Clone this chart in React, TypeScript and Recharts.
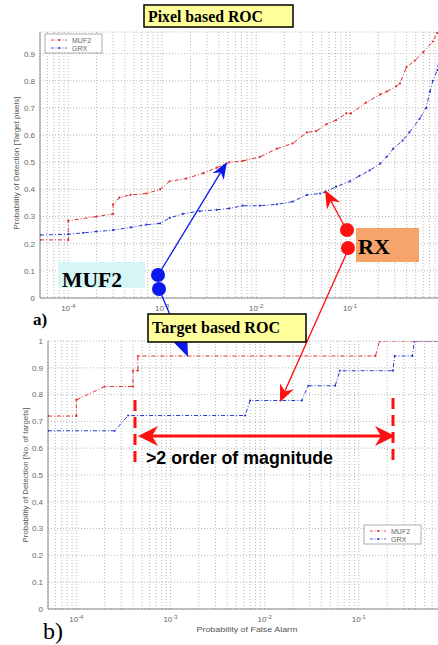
import React from "react";
import { LineChart, Line, XAxis, YAxis, CartesianGrid } from "recharts";

const seriesNames = ["MUF2", "GRX"];
const seriesColors = ["#dd2a2a", "#2a3ad0"];

// a) pixel based ROC
const pixelMufPfa = [5e-5, 1e-4, 1e-4, 2e-4, 3e-4, 3e-4, 3.5e-4, 4.6e-4, 6.8e-4, 9.5e-4, 1.2e-3, 1.8e-3, 2.75e-3, 3.8e-3, 5.2e-3, 7.2e-3, 0.011, 0.0166, 0.0245, 0.0347, 0.0437, 0.056, 0.071, 0.091, 0.102, 0.148, 0.209, 0.245, 0.309, 0.339, 0.398, 0.49, 0.6, 0.76, 0.85, 1];
const pixelMufPd = [0.214, 0.214, 0.285, 0.3, 0.31, 0.345, 0.37, 0.38, 0.385, 0.4, 0.43, 0.44, 0.46, 0.48, 0.5, 0.505, 0.52, 0.55, 0.57, 0.61, 0.615, 0.64, 0.655, 0.68, 0.68, 0.72, 0.75, 0.76, 0.78, 0.79, 0.85, 0.875, 0.905, 0.945, 0.977, 1];
const pixelGrxPfa = [5e-5, 1e-4, 1.45e-4, 2e-4, 3e-4, 4.6e-4, 6.8e-4, 9.5e-4, 1.2e-3, 1.66e-3, 2.5e-3, 3.8e-3, 5.2e-3, 7.2e-3, 0.011, 0.0166, 0.0245, 0.0347, 0.048, 0.054, 0.071, 0.1, 0.126, 0.162, 0.209, 0.245, 0.288, 0.363, 0.427, 0.55, 0.645, 0.708, 0.76, 0.85, 1];
const pixelGrxPd = [0.232, 0.235, 0.24, 0.245, 0.25, 0.26, 0.27, 0.275, 0.295, 0.31, 0.32, 0.325, 0.33, 0.34, 0.34, 0.345, 0.355, 0.38, 0.385, 0.39, 0.41, 0.43, 0.45, 0.47, 0.495, 0.52, 0.55, 0.58, 0.61, 0.66, 0.7, 0.76, 0.8, 0.84, 1];

// b) target based ROC
const targetMufPfa = [5e-5, 1e-4, 1e-4, 2e-4, 4e-4, 4e-4, 4.5e-4, 4.5e-4, 0.15, 0.166, 1];
const targetMufPd = [0.72, 0.72, 0.78, 0.83, 0.83, 0.89, 0.89, 0.944, 0.944, 1, 1];
const targetGrxPfa = [5e-5, 2.55e-4, 3.55e-4, 6.2e-3, 7.0e-3, 0.0248, 0.029, 0.056, 0.063, 0.23, 0.24, 0.37, 0.39, 1];
const targetGrxPd = [0.665, 0.665, 0.722, 0.722, 0.778, 0.778, 0.833, 0.833, 0.889, 0.889, 0.944, 0.944, 1, 1];

const pixelPdTicks = [0, 0.1, 0.2, 0.3, 0.4, 0.5, 0.6, 0.7, 0.8, 0.9];
const targetPdTicks = [0, 0.1, 0.2, 0.3, 0.4, 0.5, 0.6, 0.7, 0.8, 0.9, 1];
const decades = [1e-5, 1e-4, 1e-3, 1e-2, 1e-1];
const labelledDecades = [-4, -3, -2, -1];
const mantissas = [1, 2, 3, 4, 5, 6, 7, 8, 9];
const pfaDomain: [number, number] = [5e-5, 1];
const pfaTicks = [...decades.flatMap((d) => mantissas.map((m) => m * d)), 1].filter(
  (v) => v >= pfaDomain[0] * 0.999
);

const toRows = (xs: number[], ys: number[]) => xs.map((pfa, i) => ({ pfa, pd: ys[i] }));

const serif = "'Liberation Serif', 'Times New Roman', serif";
const sans = "'Liberation Sans', Arial, sans-serif";

const DecadeTick = (props: any) => {
  const { x, y, payload } = props;
  const lg = Math.log10(payload.value);
  const e = Math.round(lg);
  if (Math.abs(lg - e) > 1e-6 || !labelledDecades.includes(e)) return <g />;
  return (
    <text x={x} y={y + 5} textAnchor="middle" fontSize={8} fill="#666" fontFamily={sans}>
      <tspan>10</tspan>
      <tspan dy={-3} fontSize={6}>{e}</tspan>
    </text>
  );
};

type ChartProps = {
  top: number;
  width: number;
  height: number;
  margin: { top: number; right: number; bottom: number; left: number };
  yWidth: number;
  yDomain: [number, number];
  yTicks: number[];
  muf: { pfa: number; pd: number }[];
  grx: { pfa: number; pd: number }[];
};

const RocChart = ({ top, width, height, margin, yWidth, yDomain, yTicks, muf, grx }: ChartProps) => (
  <div style={{ position: "absolute", left: 0, top }}>
    <LineChart width={width} height={height} margin={margin}>
      <CartesianGrid stroke="#b8b8b8" strokeDasharray="1 2" />
      <XAxis
        dataKey="pfa"
        type="number"
        scale="log"
        domain={pfaDomain}
        ticks={pfaTicks}
        interval={0}
        allowDataOverflow
        height={20}
        tick={<DecadeTick />}
        tickLine={false}
        axisLine={{ stroke: "#888" }}
      />
      <XAxis
        xAxisId="top"
        orientation="top"
        dataKey="pfa"
        type="number"
        scale="log"
        domain={pfaDomain}
        height={0}
        tick={false}
        tickLine={false}
        axisLine={{ stroke: "#888" }}
      />
      <YAxis
        type="number"
        domain={yDomain}
        ticks={yTicks}
        interval={0}
        allowDataOverflow
        width={yWidth}
        tickSize={3}
        tickLine={false}
        axisLine={{ stroke: "#888" }}
        tick={{ fontSize: 8, fill: "#666", fontFamily: sans }}
      />
      <Line
        data={muf}
        dataKey="pd"
        name={seriesNames[0]}
        stroke={seriesColors[0]}
        strokeWidth={1}
        strokeDasharray="4 2 1 2"
        dot={{ r: 1.1, fill: seriesColors[0], stroke: "none" }}
        isAnimationActive={false}
      />
      <Line
        data={grx}
        dataKey="pd"
        name={seriesNames[1]}
        stroke={seriesColors[1]}
        strokeWidth={1}
        strokeDasharray="4 2 1 2"
        dot={{ r: 1.1, fill: seriesColors[1], stroke: "none" }}
        isAnimationActive={false}
      />
    </LineChart>
  </div>
);

const Arrow = ({ x1, y1, x2, y2, color, w, head, hw }: any) => {
  const dx = x2 - x1;
  const dy = y2 - y1;
  const L = Math.hypot(dx, dy);
  const ux = dx / L;
  const uy = dy / L;
  const bx = x2 - ux * head;
  const by = y2 - uy * head;
  const nx = x2 - ux * head * 0.7;
  const ny = y2 - uy * head * 0.7;
  const px = (-uy * hw) / 2;
  const py = (ux * hw) / 2;
  return (
    <g>
      <line x1={x1} y1={y1} x2={nx} y2={ny} stroke={color} strokeWidth={w} />
      <polygon points={`${x2},${y2} ${bx + px},${by + py} ${nx},${ny} ${bx - px},${by - py}`} fill={color} />
    </g>
  );
};

const LegendBox = ({ x, y }: { x: number; y: number }) => (
  <g>
    <rect x={x} y={y} width={57} height={19} fill="#fff" stroke="#999" strokeWidth={0.8} />
    {seriesNames.map((n, i) => (
      <g key={n}>
        <line
          x1={x + 6}
          x2={x + 22}
          y1={y + 6 + i * 8}
          y2={y + 6 + i * 8}
          stroke={seriesColors[i]}
          strokeWidth={0.8}
          strokeDasharray="3 1.5 1 1.5"
        />
        <circle cx={x + 14} cy={y + 6 + i * 8} r={0.9} fill={seriesColors[i]} />
        <text x={x + 27} y={y + 8.5 + i * 8} fontSize={7} fill="#666" fontFamily={sans}>
          {n}
        </text>
      </g>
    ))}
  </g>
);

export default function App() {
  const pixelMuf = toRows(pixelMufPfa, pixelMufPd);
  const pixelGrx = toRows(pixelGrxPfa, pixelGrxPd);
  const targetMuf = toRows(targetMufPfa, targetMufPd);
  const targetGrx = toRows(targetGrxPfa, targetGrxPd);
  const red = "#ff1010";
  const blue = "#0a18ee";
  return (
    <div style={{ position: "absolute", left: 0, top: 0, width: 438, height: 645, overflow: "hidden", background: "#fff" }}>
      <RocChart
        top={0}
        width={460}
        height={320}
        margin={{ top: 32, right: 16, bottom: 2, left: 0 }}
        yWidth={40}
        yDomain={[0, 0.98]}
        yTicks={pixelPdTicks}
        muf={pixelMuf}
        grx={pixelGrx}
      />
      <RocChart
        top={300}
        width={470}
        height={335}
        margin={{ top: 41, right: 17, bottom: 6, left: 0 }}
        yWidth={48}
        yDomain={[0, 1]}
        yTicks={targetPdTicks}
        muf={targetMuf}
        grx={targetGrx}
      />
      <svg width={438} height={645} style={{ position: "absolute", left: 0, top: 0 }}>
        <LegendBox x={45} y={34} />
        <LegendBox x={364} y={525} />

        <text transform="translate(19,163) rotate(-90)" textAnchor="middle" fontSize={7} fill="#555" fontFamily={sans} textLength={133} lengthAdjust="spacingAndGlyphs">
          Probability of Detection [Target pixels]
        </text>
        <text transform="translate(28,475) rotate(-90)" textAnchor="middle" fontSize={7} fill="#555" fontFamily={sans} textLength={135} lengthAdjust="spacingAndGlyphs">
          Probability of Detection [No. of targets]
        </text>
        <text x={247} y={632} textAnchor="middle" fontSize={8} fill="#555" fontFamily={sans} textLength={101} lengthAdjust="spacingAndGlyphs">
          Probability of False Alarm
        </text>

        {/* MUF2 annotation */}
        <rect x={58} y={262} width={87} height={26} fill="#d6f5f7" />
        <text x={62} y={287} fontSize={22} fontWeight="bold" fontFamily={serif} textLength={60} lengthAdjust="spacingAndGlyphs">MUF2</text>
        <Arrow x1={160} y1={272} x2={227} y2={162} color={blue} w={1.3} head={17} hw={13} />
        <Arrow x1={159} y1={289} x2={188} y2={357} color={blue} w={1.3} head={22} hw={17} />
        <circle cx={158} cy={275} r={7} fill={blue} />
        <circle cx={159} cy={289} r={7} fill={blue} />

        {/* RX annotation */}
        <rect x={356} y={228} width={63} height={34} fill="#f6a46a" />
        <text x={358} y={254} fontSize={22} fontWeight="bold" fontFamily={serif} textLength={32} lengthAdjust="spacingAndGlyphs">RX</text>
        <Arrow x1={345} y1={227} x2={325} y2={190} color={red} w={1.3} head={18} hw={15} />
        <Arrow x1={348} y1={250} x2={280} y2={402} color={red} w={1.3} head={17} hw={15} />
        <circle cx={347} cy={230} r={7} fill={red} />
        <circle cx={348} cy={248} r={7} fill={red} />

        {/* order of magnitude span */}
        <line x1={135} y1={400} x2={135} y2={465} stroke={red} strokeWidth={3} strokeDasharray="11 6" />
        <line x1={393} y1={398} x2={393} y2={463} stroke={red} strokeWidth={3} strokeDasharray="11 6" />
        <Arrow x1={265} y1={436} x2={138} y2={436} color={red} w={3} head={20} hw={20} />
        <Arrow x1={265} y1={436} x2={395} y2={436} color={red} w={3} head={20} hw={20} />
        <text x={146} y={464} fontSize={18} fontWeight="bold" fontFamily={sans} textLength={187} lengthAdjust="spacingAndGlyphs">
          &gt;2 order of magnitude
        </text>

        {/* titles */}
        <rect x={144} y={5} width={149} height={22} fill="#ffff9c" stroke="#000" strokeWidth={1.5} />
        <text x={148} y={22} fontSize={16} fontWeight="bold" fontFamily={serif} textLength={115} lengthAdjust="spacingAndGlyphs">Pixel based ROC</text>
        <rect x={148} y={314} width={158} height={28} fill="#ffff9c" stroke="#000" strokeWidth={1.5} />
        <text x={152} y={333} fontSize={16} fontWeight="bold" fontFamily={serif} textLength={128} lengthAdjust="spacingAndGlyphs">Target based ROC</text>

        <text x={33} y={325} fontSize={17} fontWeight="bold" fontFamily={serif}>a)</text>
        <text x={43} y={639} fontSize={24} fontFamily={serif}>b)</text>
      </svg>
    </div>
  );
}
